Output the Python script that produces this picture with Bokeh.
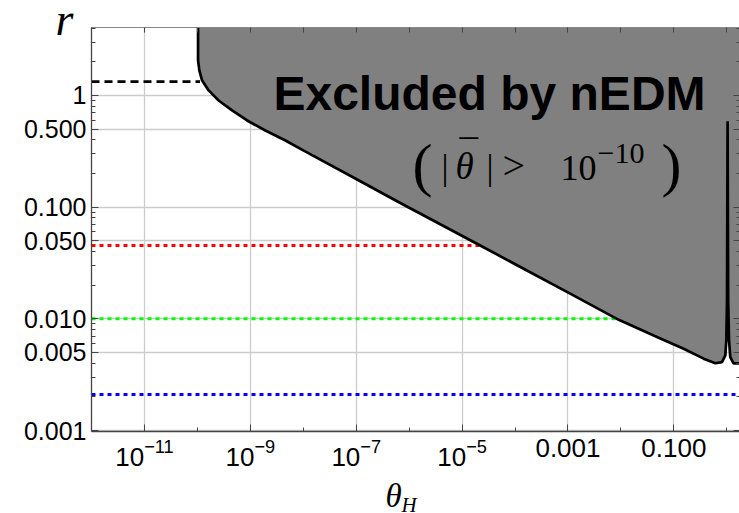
import math
from bokeh.plotting import figure
from bokeh.models import Range1d, FixedTicker, LogAxis, Label
from bokeh.embed import file_html
from bokeh.resources import INLINE

# ---------------- data ----------------
# boundary of the region excluded by nEDM  (theta_H, r)
theta_boundary = [1.03e-10, 1.03e-10, 1.09e-10, 1.23e-10, 1.63e-10, 2.52e-10,
                  4.52e-10, 8.7e-10, 1.92e-9, 4.6e-9, 1.0e-8, 1.04e-7, 6.8e-7,
                  2.2e-5, 1.1e-3, 9.1e-3, 0.0555, 0.153, 0.365, 0.607, 0.811,
                  0.938, 0.979, 1.009, 1.035, 1.062, 1.102, 1.164, 1.343, 1.80]
r_boundary = [4.06, 2.06, 1.67, 1.36, 1.11, 0.902,
              0.735, 0.597, 0.486, 0.395, 0.322, 0.177, 0.109,
              0.0454, 0.0168, 0.0098, 0.00668, 0.0054, 0.0044, 0.0040, 0.0041,
              0.0047, 0.0064, 0.0146, 0.589, 0.0146, 0.0064, 0.00454, 0.0040, 0.0040]

# horizontal reference lines: r value and theta_H where each stops
black_r, black_end = 1.33, 1.12e-10
red_r, red_end = 0.0454, 2.1e-5
green_r, green_end = 0.0100, 9.06e-3
blue_r = 0.0021

x_major = [1e-11, 1e-9, 1e-7, 1e-5, 1e-3, 1e-1]
x_minor = [1e-12, 1e-10, 1e-8, 1e-6, 1e-4, 1e-2, 1e0]
x_decades = [1e-12, 1e-11, 1e-10, 1e-9, 1e-8, 1e-7, 1e-6, 1e-5, 1e-4, 1e-3, 1e-2, 1e-1, 1e0]
x_label_over = {1e-3: "0.001", 1e-1: "0.100"}

y_major = [0.001, 0.005, 0.01, 0.05, 0.1, 0.5, 1.0]
y_major_labels = ["0.001", "0.005", "0.010", "0.050", "0.100", "0.500", "1"]
y_minor = [0.002, 0.003, 0.004, 0.006, 0.007, 0.008, 0.009,
           0.02, 0.03, 0.04, 0.06, 0.07, 0.08, 0.09,
           0.2, 0.3, 0.4, 0.6, 0.7, 0.8, 0.9, 2.0, 3.0, 4.0]

X_MIN, X_MAX = 1e-12, 10 ** 0.24
Y_MIN, Y_MAX = 0.00098, 4.06

# ---------------- figure ----------------
FL, FR, FT, FB = 91, 739, 27, 431
p = figure(width=739, height=513, x_axis_type="log", y_axis_type="log",
           x_range=Range1d(X_MIN, X_MAX), y_range=Range1d(Y_MIN, Y_MAX),
           output_backend="svg", toolbar_location=None,
           min_border_left=FL, min_border_right=0, min_border_top=FT,
           min_border_bottom=513 - FB)
p.outline_line_color = None
p.background_fill_color = "white"
p.border_fill_color = "white"

AX = "#444444"
xa = p.xaxis[0]
xa.ticker = FixedTicker(ticks=x_major, minor_ticks=x_minor)
xa.major_label_overrides = x_label_over
ya = p.yaxis[0]
ya.ticker = FixedTicker(ticks=y_major, minor_ticks=y_minor)
ya.major_label_overrides = dict(zip(y_major, y_major_labels))
for ax in (xa, ya):
    ax.axis_line_color = AX
    ax.axis_line_width = 1.3
    ax.major_tick_line_color = AX
    ax.minor_tick_line_color = AX
    ax.major_tick_in = 7
    ax.major_tick_out = 0
    ax.minor_tick_in = 4
    ax.minor_tick_out = 0
    ax.major_label_text_font = "Liberation Sans"
    ax.major_label_text_color = "black"
xa.major_label_text_font_size = "26px"
ya.major_label_text_font_size = "25px"
xa.major_label_standoff = 7
ya.major_label_standoff = 5

top = LogAxis(ticker=FixedTicker(ticks=x_decades), major_label_text_font_size="1px",
              major_label_text_alpha=0, major_label_standoff=0,
              major_tick_in=5, major_tick_out=0,
              axis_line_color="#888888", major_tick_line_color=AX)
p.add_layout(top, "above")
right = LogAxis(ticker=FixedTicker(ticks=y_major, minor_ticks=y_minor),
                major_label_text_font_size="1px", major_label_text_alpha=0,
                major_label_standoff=0,
                major_tick_in=6, major_tick_out=0, minor_tick_in=3, minor_tick_out=0,
                axis_line_color=None, major_tick_line_color=AX, minor_tick_line_color=AX)
p.add_layout(right, "right")

p.xgrid.ticker = FixedTicker(ticks=x_major)
p.ygrid.ticker = FixedTicker(ticks=y_major)
for g in (p.xgrid, p.ygrid):
    g.grid_line_color = "#cccccc"
    g.grid_line_width = 1.3

# reference lines
p.line([X_MIN, black_end], [black_r, black_r], line_color="black", line_width=2.8, line_dash="8 5")
p.line([X_MIN, red_end], [red_r, red_r], line_color="#ff0000", line_width=3, line_dash="4 4")
p.line([X_MIN, green_end], [green_r, green_r], line_color="#00ff00", line_width=3, line_dash="4 4")
p.line([X_MIN, X_MAX], [blue_r, blue_r], line_color="#0000ff", line_width=3, line_dash="4 4")

# excluded region
patch_x = theta_boundary + [theta_boundary[-1] * 2, theta_boundary[-1] * 2, theta_boundary[0]]
patch_y = r_boundary + [r_boundary[-1], Y_MAX * 2, Y_MAX * 2]
p.patch(patch_x, patch_y, fill_color="#808080", line_color=None)
p.line(theta_boundary, r_boundary, line_color="black", line_width=2.7)

# ---------------- text ----------------
LX0, LX1 = math.log10(X_MIN), math.log10(X_MAX)
LY0, LY1 = math.log10(Y_MIN), math.log10(Y_MAX)


def dx(px):
    return 10 ** (LX0 + (px - FL) / (FR - FL) * (LX1 - LX0))


def dy(py):
    return 10 ** (LY0 + (FB - py) / (FB - FT) * (LY1 - LY0))


def lab(text, px, py, size, font="Liberation Serif", style="normal", align="left", place=None):
    py_adj = py - 0.34 * size
    lbl = Label(x=dx(px), y=dy(py_adj), text=text, text_font=font,
                text_font_size=f"{size}px", text_font_style=style,
                text_align=align, text_baseline="alphabetic",
                text_color="black")
    if place is None:
        p.add_layout(lbl)
    else:
        p.add_layout(lbl, place)


lab("Excluded by nEDM", 489, 109, 48, font="Liberation Sans", style="bold", align="center")
lab("(", 412, 185, 60)
lab("|", 441, 179, 35)
lab("\u03b8", 455, 179, 37, style="italic")
lab("\u00af", 459, 166, 37)
lab("|", 486, 179, 35)
lab(">", 502, 179, 40)
lab("10", 560, 180, 36)
lab("\u221210", 597, 163, 30)
lab(")", 661, 185, 60)

lab("r", 55, 35, 46, style="italic", place="left")
lab("\u03b8", 385, 507, 33, style="italic", place="below")
lab("H", 401, 512, 21, style="italic", place="above")

open("out.html", "w").write(file_html(p, INLINE))
